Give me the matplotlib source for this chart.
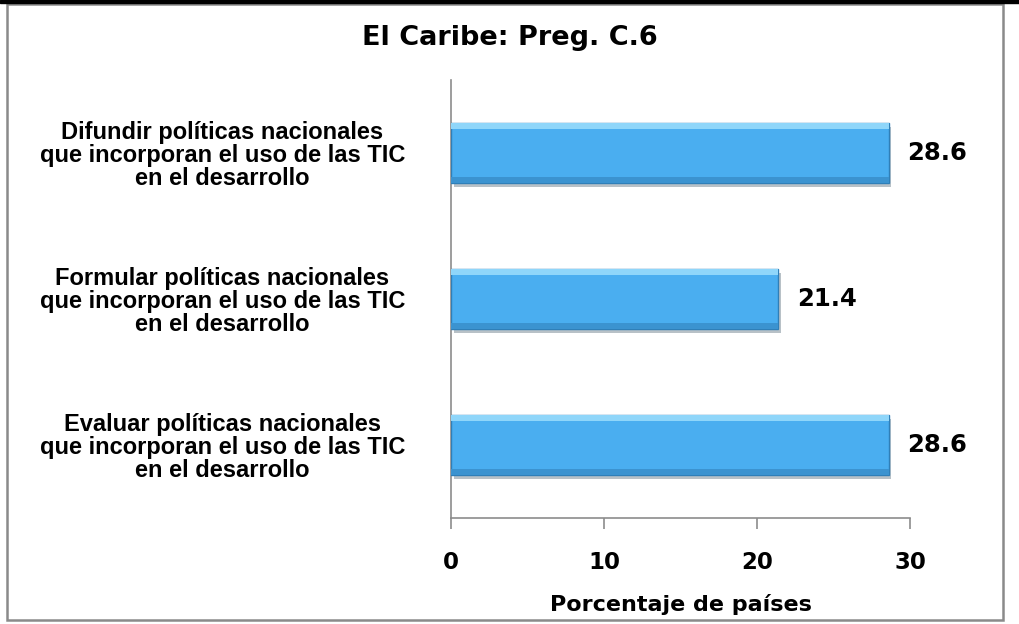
import matplotlib
matplotlib.use('Agg')
import matplotlib.pyplot as plt
import matplotlib.patheffects as pe
from matplotlib.patches import Rectangle


CATEGORIES = [
    'Difundir políticas nacionales\nque incorporan el uso de las TIC\nen el desarrollo',
    'Formular políticas nacionales\nque incorporan el uso de las TIC\nen el desarrollo',
    'Evaluar políticas nacionales\nque incorporan el uso de las TIC\nen el desarrollo',
]
VALUES = [28.6, 21.4, 28.6]
X_TICKS = [0, 10, 20, 30]
TITLE = 'El Caribe: Preg. C.6'
X_LABEL = 'Porcentaje de países'

BAR_COLOR = '#4aaef0'
EDGE_COLOR = '#2f7fb8'
AXIS_COLOR = '#8c8c8c'


def do_plot():
    fig = plt.figure(figsize=(10.19, 6.24), dpi=100)
    ax = fig.add_axes([451 / 1019, 0.170, 459 / 1019, 0.702])

    pos = list(range(len(CATEGORIES)))
    height = 0.41
    # main bars with a soft drop shadow
    bars = ax.barh(pos, VALUES, height=height, color=BAR_COLOR,
                   edgecolor=EDGE_COLOR, linewidth=1.0, zorder=3)
    for b in bars:
        b.set_path_effects([pe.SimplePatchShadow(offset=(2, -3), alpha=0.3),
                            pe.Normal()])
    # bevel: light band on the top edge, darker band on the bottom edge
    ax.barh([p - height / 2 + 0.02 for p in pos], VALUES, height=0.04,
            color='#8fd6fa', linewidth=0, zorder=4)
    ax.barh([p + height / 2 - 0.02 for p in pos], VALUES, height=0.04,
            color='#3b93d0', linewidth=0, zorder=4)

    for p, v in zip(pos, VALUES):
        ax.text(v + 1.2, p, f'{v:.1f}', va='center', ha='left',
                fontsize=17.5, fontweight='bold', family='DejaVu Sans')

    ax.set_xlim(0, 30)
    ax.set_ylim(len(CATEGORIES) - 0.5, -0.5)
    ax.set_xticks(X_TICKS)
    ax.set_xticklabels([str(t) for t in X_TICKS], fontsize=16.5,
                       fontweight='bold', family='DejaVu Sans')
    ax.set_yticks(pos)
    ax.set_yticklabels(CATEGORIES, fontsize=17, fontweight='bold',
                       family='Liberation Sans', multialignment='center',
                       linespacing=1.02)
    ax.tick_params(axis='y', length=0, pad=33)
    ax.tick_params(axis='x', length=8, width=1.2, color=AXIS_COLOR, pad=16)
    ax.set_xlabel(X_LABEL, fontsize=16, fontweight='bold',
                  family='DejaVu Sans', labelpad=14)

    ax.spines['top'].set_visible(False)
    ax.spines['right'].set_visible(False)
    for s in ('left', 'bottom'):
        ax.spines[s].set_color(AXIS_COLOR)
        ax.spines[s].set_linewidth(1.2)

    fig.text(510 / 1019, 1 - 38 / 624, TITLE, ha='center', va='center',
             fontsize=19.5, fontweight='bold', family='DejaVu Sans')

    # chart frame and top dark band
    fig.patches.append(Rectangle((7 / 1019, 4 / 624), 996 / 1019, 616 / 624,
                                 transform=fig.transFigure, fill=False,
                                 edgecolor='#8a8a8a', linewidth=1.8))
    fig.patches.append(Rectangle((0, 1 - 3 / 624), 1, 3 / 624,
                                 transform=fig.transFigure, color='black'))

    fig.savefig('out.png', dpi=100)
    return fig


do_plot()
